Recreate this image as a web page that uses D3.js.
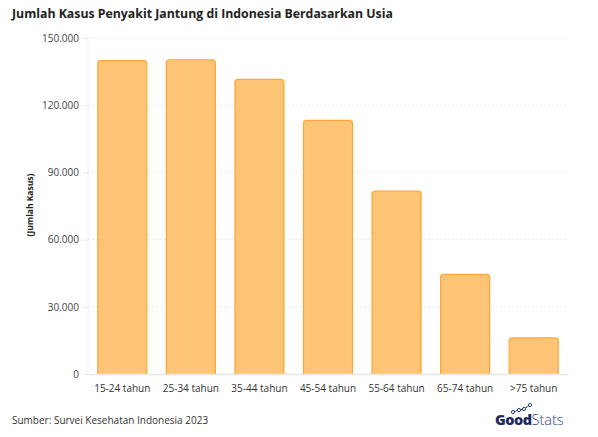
<!DOCTYPE html>
<html>
<head>
<meta charset="utf-8">
<script src="https://cdn.jsdelivr.net/npm/d3@7"></script>
<style>
  body { margin: 0; background: #fff; }
  text { font-family: "Open Sans", Lato, sans-serif; }
</style>
</head>
<body>
<div id="app"></div>
<script>
// data
const categories = ["15-24 tahun", "25-34 tahun", "35-44 tahun", "45-54 tahun", "55-64 tahun", "65-74 tahun", ">75 tahun"];
const kasus = [139900, 140300, 131500, 113200, 81600, 44500, 16100];
const yTicks = [0, 30000, 60000, 90000, 120000, 150000];

const w = 598, h = 437;
const padLeft = 88, padRight = 568, padTop = 38, padBottom = 374;

const svg = d3.select("#app").append("svg")
  .attr("width", w)
  .attr("height", h)
  .style("background-color", "#fff");

svg.append("text")
  .attr("x", 12).attr("y", 18)
  .style("font-size", "12.3px").style("font-weight", "700")
  .attr("fill", "#222")
  .text("Jumlah Kasus Penyakit Jantung di Indonesia Berdasarkan Usia");

const xScale = d3.scaleBand().domain(categories).range([padLeft, padRight]).paddingInner(0.285).paddingOuter(0.1425);
const yScale = d3.scaleLinear().domain([0, 150000]).range([padBottom, padTop]);

const fmt = v => d3.format(",")(v).replace(/,/g, ".");

// gridlines
svg.append("g")
  .selectAll("line")
  .data(yTicks.filter(d => d > 0))
  .enter().append("line")
  .attr("x1", padLeft).attr("x2", padRight)
  .attr("y1", d => yScale(d)).attr("y2", d => yScale(d))
  .attr("stroke", "#e8e8e8")
  .attr("stroke-dasharray", "2,2");

svg.append("line")
  .attr("x1", padLeft).attr("x2", padLeft)
  .attr("y1", padTop).attr("y2", padBottom)
  .attr("stroke", "#eeeeee");

// y axis
const yAxis = d3.axisLeft(yScale).tickValues(yTicks).tickFormat(fmt).tickSize(6).tickPadding(3);
svg.append("g")
  .attr("transform", "translate(" + padLeft + ",0)")
  .call(yAxis)
  .call(g => g.select(".domain").remove())
  .call(g => g.selectAll("line").attr("stroke", "#e8e8e8"))
  .call(g => g.selectAll("text").attr("fill", "#444").style("font-size", "10px"));

svg.append("text")
  .attr("transform", "rotate(-90)")
  .attr("x", -205).attr("y", 33)
  .style("text-anchor", "middle")
  .style("font-size", "8.5px").style("font-weight", "700")
  .attr("fill", "#222")
  .text("(Jumlah Kasus)");

// bars
svg.selectAll(".bar")
  .data(categories)
  .enter().append("rect")
  .attr("class", "bar")
  .attr("x", d => xScale(d))
  .attr("y", (d, i) => yScale(kasus[i]))
  .attr("width", xScale.bandwidth())
  .attr("height", (d, i) => padBottom - yScale(kasus[i]) + 3)
  .attr("rx", 3)
  .attr("fill", "#fdc475")
  .attr("stroke", "#f9a835")
  .attr("stroke-width", 1.2);

// cover rounded bottom
svg.append("rect")
  .attr("x", padLeft).attr("y", padBottom + 0.5)
  .attr("width", padRight - padLeft + 2).attr("height", 6)
  .attr("fill", "#fff");

// x axis
const xAxis = d3.axisBottom(xScale).tickSize(0).tickPadding(11);
svg.append("g")
  .attr("transform", "translate(0," + padBottom + ")")
  .call(xAxis)
  .call(g => g.select(".domain").attr("stroke", "#e6e6e6").attr("stroke-width", 1.5))
  .call(g => g.selectAll("text").attr("fill", "#333").style("font-size", "10px"));

// footer
svg.append("text")
  .attr("x", 12).attr("y", 424)
  .style("font-size", "10px")
  .attr("fill", "#333")
  .text("Sumber: Survei Kesehatan Indonesia 2023");

const logo = svg.append("g").attr("transform", "translate(495,425)");
const lt = logo.append("text").style("font-size", "14.5px");
lt.append("tspan").attr("fill", "#1d2a5a").style("font-weight", "800").style("letter-spacing", "-0.5px").text("Good");
lt.append("tspan").attr("fill", "#2c3f7a").style("font-weight", "300").text("Stats");
const dots = [[18, -13], [24, -15], [29, -16], [35, -20]];
logo.append("path")
  .attr("d", d3.line()(dots))
  .attr("fill", "none").attr("stroke", "#2c3f7a").attr("stroke-width", 1);
logo.selectAll("circle").data(dots).enter().append("circle")
  .attr("cx", d => d[0]).attr("cy", d => d[1]).attr("r", 1.6)
  .attr("fill", "#fff").attr("stroke", "#2c3f7a").attr("stroke-width", 1);
</script>
</body>
</html>
